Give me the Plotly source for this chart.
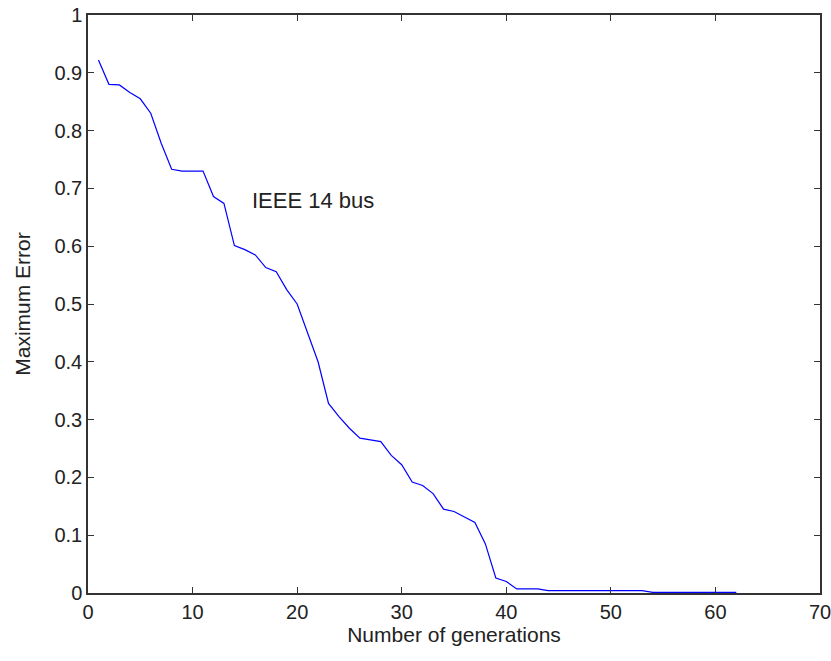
import plotly.graph_objects as go

generations = list(range(1, 63))
max_error = [
    0.922, 0.880, 0.879, 0.866, 0.855, 0.830, 0.778, 0.733, 0.730, 0.730,
    0.730, 0.686, 0.674, 0.601, 0.594, 0.585, 0.563, 0.556, 0.525, 0.500,
    0.450, 0.400, 0.328, 0.305, 0.285, 0.268, 0.265, 0.262, 0.238, 0.222,
    0.192, 0.186, 0.172, 0.145, 0.141, 0.132, 0.122, 0.085, 0.026, 0.020,
    0.007, 0.007, 0.007, 0.004, 0.004, 0.004, 0.004, 0.004, 0.004, 0.004,
    0.004, 0.004, 0.004, 0.001, 0.001, 0.001, 0.001, 0.001, 0.001, 0.001,
    0.001, 0.001,
]
x_ticks = [0, 10, 20, 30, 40, 50, 60, 70]
y_ticks = [0, 0.1, 0.2, 0.3, 0.4, 0.5, 0.6, 0.7, 0.8, 0.9, 1]
y_tick_text = ["0", "0.1", "0.2", "0.3", "0.4", "0.5", "0.6", "0.7", "0.8", "0.9", "1"]

family = "Liberation Sans, Arial, sans-serif"
tick_font = dict(family=family, size=20, color="#222222")
label_font = dict(family=family, size=21, color="#222222")

fig = go.Figure()
fig.add_trace(go.Scatter(x=generations, y=max_error, mode="lines",
                         line=dict(color="#0000FF", width=1.2), showlegend=False))

fig.add_annotation(x=15.5, y=0.679, text="IEEE 14 bus", showarrow=False,
                   xanchor="left", yanchor="middle", font=dict(family=family, size=22, color="#222222"))

axis_common = dict(showline=True, linecolor="#333333", linewidth=1.5, mirror="ticks",
                   ticks="inside", ticklen=6, tickcolor="#333333", tickwidth=1,
                   showgrid=False, zeroline=False, tickfont=tick_font, automargin=False,
                   ticklabeloverflow="allow")

fig.update_xaxes(range=[0, 70], tickvals=x_ticks,
                 title=dict(text="Number of generations", font=label_font, standoff=6),
                 **axis_common)
fig.update_yaxes(range=[0, 1], tickvals=y_ticks, ticktext=y_tick_text,
                 title=dict(text="Maximum Error", font=label_font, standoff=18), **axis_common)

fig.update_layout(width=831, height=661, margin=dict(l=88, r=11, t=15, b=68),
                  plot_bgcolor="white", paper_bgcolor="white")

fig.write_html("out.html")
